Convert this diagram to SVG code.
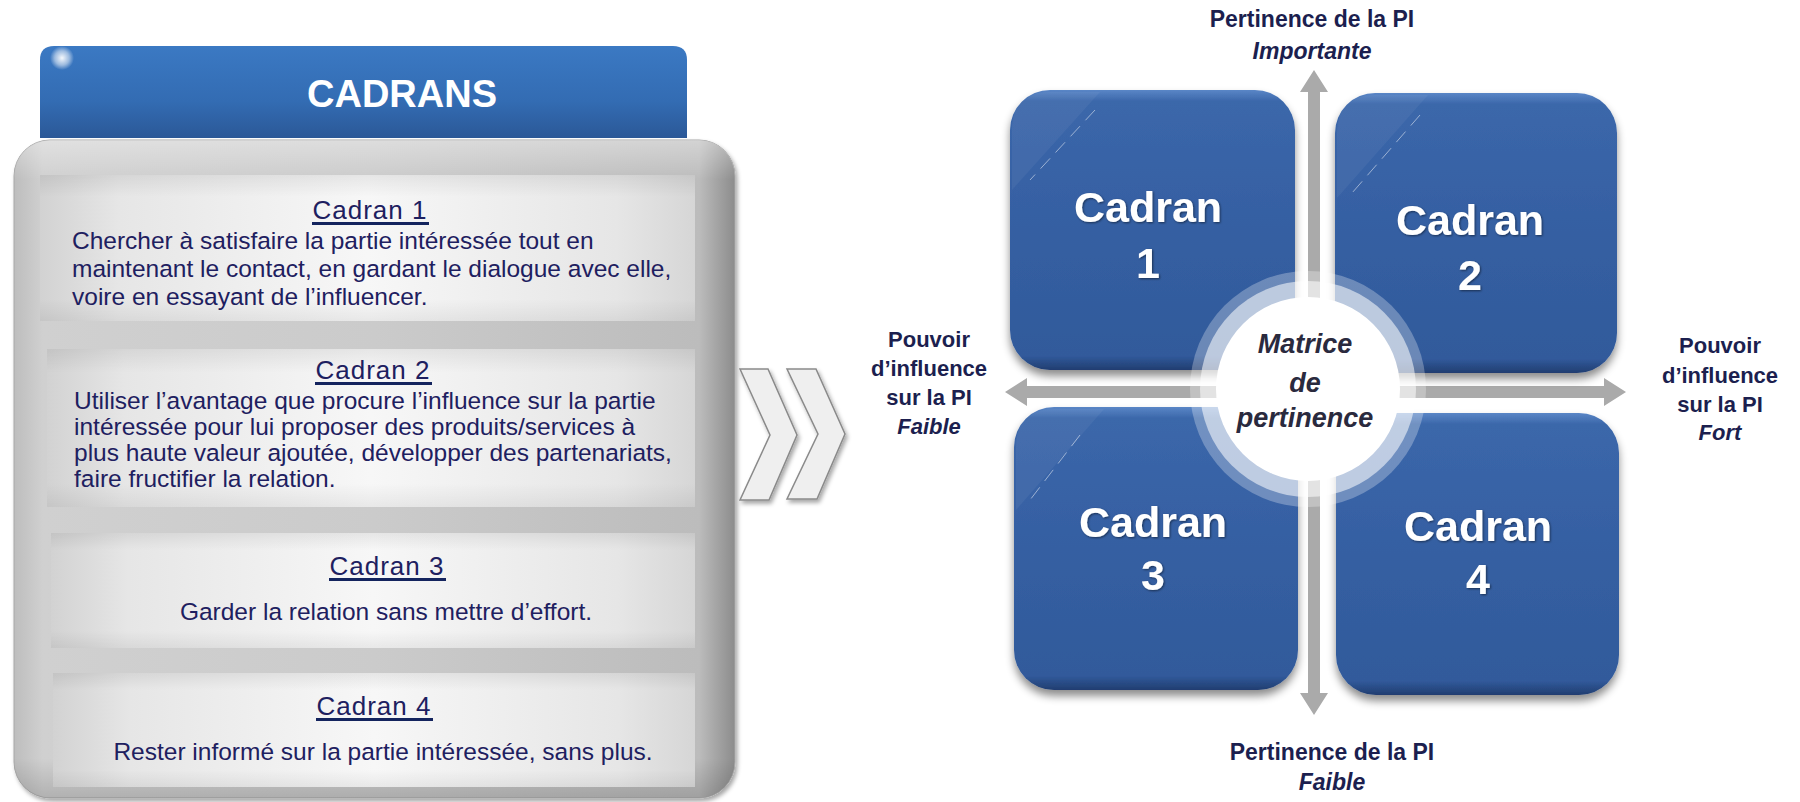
<svg xmlns="http://www.w3.org/2000/svg" width="1800" height="802" viewBox="0 0 1800 802">
<defs>
<style>
text{font-family:"Liberation Sans",Arial,Helvetica,sans-serif}
.body{font-size:24.5px;fill:#1e2060}
.head{font-size:26px;fill:#1e2060;text-anchor:middle;letter-spacing:1px}
.ul{fill:#14245e}
.ctr{text-anchor:middle}
.big{font-size:43px;font-weight:bold;fill:#ffffff;text-anchor:middle}
.lab{font-size:22px;font-weight:bold;fill:#1c1f4f;text-anchor:middle}
.labi{font-size:22px;font-weight:bold;font-style:italic;fill:#1c1f4f;text-anchor:middle}
.labv{font-size:23px}
.mat{font-size:27px;font-weight:bold;font-style:italic;fill:#2a2a3e;text-anchor:middle}
.arrow{fill:#aaaaaa}
.quad{fill:url(#gBlue)}
.chev{fill:#efefef;stroke:#8a8a8a;stroke-width:1.5;stroke-linejoin:miter}
</style>
<linearGradient id="gHead" x1="0" y1="0" x2="0" y2="1">
<stop offset="0" stop-color="#3b79c3"/>
<stop offset="0.6" stop-color="#336cb3"/>
<stop offset="1" stop-color="#2b5897"/>
</linearGradient>
<radialGradient id="gGloss" cx="0.5" cy="0.5" r="0.5">
<stop offset="0" stop-color="#ffffff" stop-opacity="0.95"/>
<stop offset="0.6" stop-color="#ffffff" stop-opacity="0.5"/>
<stop offset="1" stop-color="#ffffff" stop-opacity="0"/>
</radialGradient>
<linearGradient id="gPanel" x1="0" y1="0" x2="1" y2="0">
<stop offset="0" stop-color="#bdbdbd"/>
<stop offset="0.04" stop-color="#d0d0d0"/>
<stop offset="0.5" stop-color="#cbcbcb"/>
<stop offset="0.95" stop-color="#bcbcbc"/>
<stop offset="1" stop-color="#8c8c8c"/>
</linearGradient>
<linearGradient id="gPanelV" x1="0" y1="0" x2="0" y2="1">
<stop offset="0" stop-color="#ffffff" stop-opacity="0.35"/>
<stop offset="0.06" stop-color="#ffffff" stop-opacity="0"/>
<stop offset="0.94" stop-color="#000000" stop-opacity="0"/>
<stop offset="1" stop-color="#000000" stop-opacity="0.15"/>
</linearGradient>
<linearGradient id="gInner" x1="0" y1="0" x2="1" y2="0">
<stop offset="0" stop-color="#d2d2d2"/>
<stop offset="0.12" stop-color="#e6e6e6"/>
<stop offset="0.5" stop-color="#f7f7f7"/>
<stop offset="0.88" stop-color="#e6e6e6"/>
<stop offset="1" stop-color="#d6d6d6"/>
</linearGradient>
<linearGradient id="gInnerV" x1="0" y1="0" x2="0" y2="1">
<stop offset="0" stop-color="#000000" stop-opacity="0.07"/>
<stop offset="0.15" stop-color="#000000" stop-opacity="0"/>
<stop offset="0.85" stop-color="#000000" stop-opacity="0"/>
<stop offset="1" stop-color="#000000" stop-opacity="0.06"/>
</linearGradient>
<linearGradient id="gBlue" x1="0" y1="0" x2="0" y2="1">
<stop offset="0" stop-color="#5a86c6"/>
<stop offset="0.04" stop-color="#3b67aa"/>
<stop offset="0.5" stop-color="#355fa2"/>
<stop offset="0.95" stop-color="#315a9b"/>
<stop offset="1" stop-color="#213d70"/>
</linearGradient>
<filter id="fShadow" x="-10%" y="-10%" width="120%" height="125%">
<feDropShadow dx="0" dy="6" stdDeviation="4" flood-color="#000000" flood-opacity="0.45"/>
</filter>
<filter id="fSoft" x="-10%" y="-10%" width="120%" height="120%">
<feDropShadow dx="2" dy="3" stdDeviation="2" flood-color="#000000" flood-opacity="0.35"/>
</filter>
<filter id="fTxt" x="-10%" y="-10%" width="120%" height="130%">
<feDropShadow dx="1" dy="1" stdDeviation="0.8" flood-color="#000000" flood-opacity="0.5"/>
</filter>
</defs>

<rect width="1800" height="802" fill="#ffffff"/>

<!-- Left panel -->
<g id="cadrans-header">
<path d="M40,138 V60 Q40,46 54,46 H673 Q687,46 687,60 V138 Z" fill="url(#gHead)"/>
<circle cx="62" cy="58" r="12" fill="url(#gGloss)"/>
<text x="402" y="107" class="ctr" font-size="38" font-weight="bold" fill="#ffffff">CADRANS</text>
</g>

<g id="cadrans-panel">
<rect x="14" y="140" width="721" height="658" rx="36" fill="url(#gPanel)" stroke="#a8a8a8" stroke-width="1" filter="url(#fSoft)"/>
<rect x="14" y="140" width="721" height="658" rx="36" fill="url(#gPanelV)"/>
</g>

<g id="cadran1-text">
<rect x="40" y="175" width="655" height="146" fill="url(#gInner)"/>
<rect x="40" y="175" width="655" height="146" fill="url(#gInnerV)"/>
<text x="370" y="219" class="head">Cadran 1</text>
<rect x="312" y="222" width="117" height="3" class="ul"/>
<text class="body"><tspan x="72" y="249">Chercher à satisfaire la partie intéressée tout en</tspan><tspan x="72" y="277">maintenant le contact, en gardant le dialogue avec elle,</tspan><tspan x="72" y="305">voire en essayant de l’influencer.</tspan></text>
</g>

<g id="cadran2-text">
<rect x="47" y="349" width="648" height="158" fill="url(#gInner)"/>
<rect x="47" y="349" width="648" height="158" fill="url(#gInnerV)"/>
<text x="373" y="379" class="head">Cadran 2</text>
<rect x="315" y="382" width="117" height="3" class="ul"/>
<text class="body"><tspan x="74" y="409">Utiliser l’avantage que procure l’influence sur la partie</tspan><tspan x="74" y="435">intéressée pour lui proposer des produits/services à</tspan><tspan x="74" y="461">plus haute valeur ajoutée, développer des partenariats,</tspan><tspan x="74" y="487">faire fructifier la relation.</tspan></text>
</g>

<g id="cadran3-text">
<rect x="51" y="533" width="644" height="115" fill="url(#gInner)"/>
<rect x="51" y="533" width="644" height="115" fill="url(#gInnerV)"/>
<text x="387" y="575" class="head">Cadran 3</text>
<rect x="329" y="578" width="117" height="3" class="ul"/>
<text x="386" y="620" class="body ctr">Garder la relation sans mettre d’effort.</text>
</g>

<g id="cadran4-text">
<rect x="53" y="673" width="642" height="114" fill="url(#gInner)"/>
<rect x="53" y="673" width="642" height="114" fill="url(#gInnerV)"/>
<text x="374" y="715" class="head">Cadran 4</text>
<rect x="316" y="718" width="117" height="3" class="ul"/>
<text x="383" y="760" class="body ctr">Rester informé sur la partie intéressée, sans plus.</text>
</g>

<!-- Chevrons -->
<g id="chevrons" filter="url(#fSoft)">
<polygon class="chev" points="740,369 768,369 797,435 769,500 740,500 770,435"/>
<polygon class="chev" points="787,369 816,369 845,434 817,499 787,499 818,434"/>
</g>

<!-- Connectors (axes) -->
<g id="connectors">
<polygon class="arrow" points="1314,70 1328,92 1320,92 1320,693 1328,693 1314,715 1300,693 1308,693 1308,92 1300,92"/>
<polygon class="arrow" points="1005,392 1027,378 1027,386 1604,386 1604,378 1626,392 1604,406 1604,398 1027,398 1027,406"/>
</g>

<!-- Quadrants -->
<g id="quadrant1">
<rect x="1010" y="90" width="285" height="280" rx="40" class="quad" filter="url(#fShadow)"/>
<path d="M1100,92 L1012,190 L1012,130 Q1012,92 1050,92 Z" fill="#ffffff" opacity="0.05"/>
<line x1="1095" y1="110" x2="1030" y2="180" stroke="#ffffff" stroke-opacity="0.5" stroke-width="1" stroke-dasharray="14 8"/>
<g filter="url(#fTxt)"><text x="1148" y="222" class="big">Cadran</text><text x="1148" y="278" class="big">1</text></g>
</g>
<g id="quadrant2">
<rect x="1335" y="93" width="282" height="280" rx="40" class="quad" filter="url(#fShadow)"/>
<path d="M1428,95 L1337,198 L1337,133 Q1337,95 1375,95 Z" fill="#ffffff" opacity="0.05"/>
<line x1="1420" y1="115" x2="1352" y2="193" stroke="#ffffff" stroke-opacity="0.5" stroke-width="1" stroke-dasharray="14 8"/>
<g filter="url(#fTxt)"><text x="1470" y="235" class="big">Cadran</text><text x="1470" y="290" class="big">2</text></g>
</g>
<g id="quadrant3">
<rect x="1014" y="407" width="284" height="283" rx="40" class="quad" filter="url(#fShadow)"/>
<path d="M1104,409 L1016,510 L1016,447 Q1016,409 1054,409 Z" fill="#ffffff" opacity="0.05"/>
<line x1="1080" y1="435" x2="1030" y2="500" stroke="#ffffff" stroke-opacity="0.5" stroke-width="1" stroke-dasharray="14 8"/>
<g filter="url(#fTxt)"><text x="1153" y="537" class="big">Cadran</text><text x="1153" y="590" class="big">3</text></g>
</g>
<g id="quadrant4">
<rect x="1336" y="413" width="283" height="282" rx="40" class="quad" filter="url(#fShadow)"/>
<g filter="url(#fTxt)"><text x="1478" y="541" class="big">Cadran</text><text x="1478" y="594" class="big">4</text></g>
</g>

<!-- Center circle -->
<g id="matrice">
<circle cx="1308" cy="389" r="118" fill="#ffffff" fill-opacity="0.28"/>
<circle cx="1308" cy="389" r="108" fill="#ffffff" fill-opacity="0.55"/>
<circle cx="1308" cy="389" r="92" fill="#ffffff"/>
<text x="1305" y="353" class="mat">Matrice</text>
<text x="1305" y="392" class="mat">de</text>
<text x="1305" y="427" class="mat">pertinence</text>
</g>

<!-- Axis labels -->
<g id="label-top">
<text x="1312" y="27" class="lab labv">Pertinence de la PI</text>
<text x="1312" y="59" class="labi labv">Importante</text>
</g>
<g id="label-bottom">
<text x="1332" y="760" class="lab labv">Pertinence de la PI</text>
<text x="1332" y="790" class="labi labv">Faible</text>
</g>
<g id="label-left">
<text class="lab"><tspan x="929" y="347">Pouvoir</tspan><tspan x="929" y="376">d’influence</tspan><tspan x="929" y="405">sur la PI</tspan></text>
<text x="929" y="434" class="labi">Faible</text>
</g>
<g id="label-right">
<text class="lab"><tspan x="1720" y="353">Pouvoir</tspan><tspan x="1720" y="383">d’influence</tspan><tspan x="1720" y="412">sur la PI</tspan></text>
<text x="1720" y="440" class="labi">Fort</text>
</g>
</svg>
